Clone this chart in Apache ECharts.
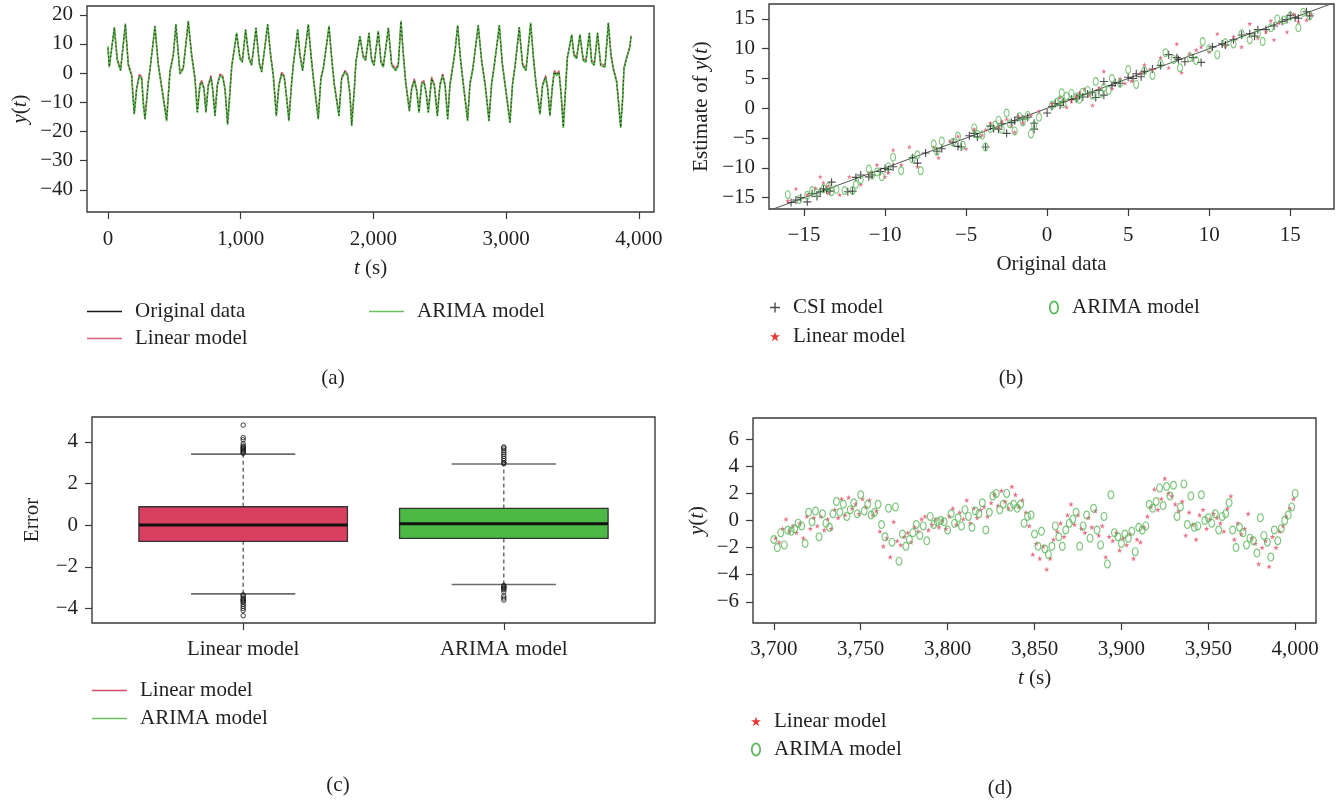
<!DOCTYPE html>
<html>
<head>
<meta charset="utf-8">
<script src="https://cdn.jsdelivr.net/npm/echarts@6/dist/echarts.min.js"></script>
<style>
html,body{margin:0;padding:0;background:#fff;}
#chart{width:1340px;height:803px;}
</style>
</head>
<body>
<div id="chart"></div>
<script>
// ---------- Panel (a): time series ----------
const tA = [
0,10,48,70,95,131,153,178,186,198,
216,236,254,266,279,304,316,354,379,404,
442,467,492,512,542,567,605,630,655,673,
693,706,723,738,756,776,788,806,824,844,
864,881,901,919,932,969,994,1012,1037,1062,
1082,1115,1140,1158,1203,1225,1245,1268,1288,1308,
1328,1346,1363,1384,1396,1429,1446,1466,1509,1529,
1547,1584,1604,1622,1665,1685,1705,1740,1760,1785,
1805,1823,1836,1856,1868,1898,1923,1941,1966,1986,
2004,2036,2056,2074,2112,2137,2167,2187,2207,2225,
2242,2270,2288,2308,2325,2343,2363,2380,2395,2413,
2438,2458,2481,2501,2521,2539,2559,2576,2601,2614,
2634,2656,2676,2709,2727,2747,2789,2815,2840,2870,
2890,2907,2948,2970,2990,3028,3048,3066,3098,3123,
3149,3184,3204,3224,3254,3274,3297,3312,3329,3349,
3362,3380,3397,3412,3430,3447,3460,3493,3510,3530,
3555,3580,3600,3626,3643,3663,3688,3711,3744,3769,
3789,3806,3832,3862,3877,3887,3907,3932,3940];
const yOrig = [
8.5,2.2,15.6,4.5,1.0,16.8,2.8,-0.7,-6.4,-13.9,
-5.3,-0.9,-1.8,-10.3,-15.6,-3.0,1.0,16.0,2.8,-4.7,
-16.2,0.5,6.2,16.6,-0.1,1.6,17.7,6.2,-1.8,-13.3,
-4.1,-3.0,-5.3,-13.3,-4.1,-1.3,-5.3,-14.5,-4.1,-0.7,
-1.3,-5.3,-17.4,-6.4,2.2,13.7,5.1,3.9,14.8,5.1,
2.8,15.4,3.3,0.5,16.6,6.2,-0.7,-14.5,-4.1,-0.1,
-1.3,-8.7,-16.2,-3.0,2.8,14.8,6.2,1.0,16.6,6.2,
-1.8,-15.6,-1.8,1.6,16.0,5.1,-4.1,-14.5,-1.8,0.5,
-0.7,-7.5,-17.9,-5.3,3.9,12.5,5.6,4.5,13.7,4.5,
2.8,14.3,3.9,2.2,15.4,2.8,1.0,2.8,17.7,6.2,
-3.0,-12.8,-5.3,-2.4,-5.9,-13.3,-3.6,-3.0,-6.4,-13.3,
-1.8,-4.1,-14.5,-4.1,-0.7,-4.1,-15.6,-4.1,3.3,7.4,
16.3,4.5,-3.6,-16.2,-3.6,1.0,16.3,4.0,-3.6,-16.2,
-3.6,1.6,16.3,3.3,-3.6,-16.8,-3.6,2.2,15.6,2.8,
1.0,17.1,5.6,-3.6,-13.9,-4.1,-1.3,-5.3,-14.5,-4.1,
0.5,-0.7,0.5,-6.4,-18.5,-5.3,5.1,13.1,6.2,5.1,
13.1,4.5,3.9,13.7,3.9,2.8,13.7,2.8,2.2,17.1,
6.2,1.6,-3.0,-18.5,-8.7,1.6,5.1,9.1,12.5];
const yLin = [
8.0,2.6,15.1,5.0,1.4,16.2,3.3,-0.2,-5.8,-13.0,
-5.0,-0.4,-1.3,-9.6,-14.8,-2.6,1.5,15.4,3.4,-4.2,
-15.3,0.9,6.6,16.0,0.4,2.0,17.0,6.8,-1.3,-12.5,
-3.6,-2.5,-4.8,-12.6,-3.7,-0.8,-4.8,-13.7,-3.6,-0.3,
-0.8,-4.9,-16.5,-5.8,2.7,13.1,5.6,4.4,14.2,5.6,
3.3,14.8,3.8,1.0,16.0,6.7,-0.2,-13.7,-3.7,0.3,
-0.9,-8.1,-15.3,-2.6,3.3,14.2,6.7,1.5,16.0,6.7,
-1.3,-14.8,-1.4,2.0,15.4,5.6,-3.6,-13.7,-1.4,0.9,
-0.3,-7.0,-17.0,-4.8,4.4,12.0,6.1,5.0,13.2,5.0,
3.3,13.8,4.4,2.7,14.9,3.3,1.5,3.3,17.0,6.7,
-2.5,-12.1,-4.8,-1.9,-5.4,-12.6,-3.1,-2.5,-5.9,-12.6,
-1.3,-3.6,-13.7,-3.6,-0.2,-3.6,-14.8,-3.6,3.8,7.9,
15.7,5.0,-3.1,-15.3,-3.1,1.5,15.7,4.5,-3.1,-15.3,
-3.1,2.1,15.7,3.8,-3.1,-15.9,-3.1,2.7,15.0,3.3,
1.5,16.5,6.1,-3.1,-13.2,-3.6,-0.8,-4.8,-13.7,-3.6,
0.9,-0.3,0.9,-5.9,-17.5,-4.8,5.6,12.6,6.7,5.6,
12.6,5.0,4.4,13.2,4.4,3.3,13.2,3.3,2.7,16.5,
6.7,2.1,-2.5,-17.6,-8.1,2.1,5.6,9.5,12.9];
const yAri = [
9.2,2.0,15.8,4.3,0.8,17.0,2.6,-0.9,-6.6,-14.2,
-5.5,-1.1,-2.0,-10.6,-15.9,-3.2,0.8,16.2,2.6,-4.9,
-16.5,0.3,6.0,16.8,-0.3,1.4,17.9,6.0,-2.0,-13.6,
-4.3,-3.2,-5.5,-13.6,-4.3,-1.5,-5.5,-14.8,-4.3,-0.9,
-1.5,-5.5,-17.8,-6.6,2.0,13.9,4.9,3.7,15.0,4.9,
2.6,15.6,3.1,0.3,16.8,6.0,-0.9,-14.8,-4.3,-0.3,
-1.5,-8.9,-16.5,-3.2,2.6,15.0,6.0,0.8,16.8,6.0,
-2.0,-15.9,-2.0,1.4,16.2,4.9,-4.3,-14.8,-2.0,0.3,
-0.9,-7.7,-18.2,-5.5,3.7,12.7,5.4,4.3,13.9,4.3,
2.6,14.5,3.7,2.0,15.6,2.6,0.8,2.6,17.9,6.0,
-3.2,-13.1,-5.5,-2.6,-6.1,-13.6,-3.8,-3.2,-6.6,-13.6,
-2.0,-4.3,-14.8,-4.3,-0.9,-4.3,-15.9,-4.3,3.1,7.2,
16.5,4.3,-3.8,-16.5,-3.8,0.8,16.5,3.8,-3.8,-16.5,
-3.8,1.4,16.5,3.1,-3.8,-17.1,-3.8,2.0,15.8,2.6,
0.8,17.3,5.4,-3.8,-14.2,-4.3,-1.5,-5.5,-14.8,-4.3,
0.3,-0.9,0.3,-6.6,-18.8,-5.5,4.9,13.3,6.0,4.9,
13.3,4.3,3.7,13.9,3.7,2.6,13.9,2.6,2.0,17.3,
6.0,1.4,-3.2,-18.8,-8.9,1.4,4.9,8.9,12.7];
const ticksAX = [0,1000,2000,3000,4000];
const ticksAY = [-40,-30,-20,-10,0,10,20];

// ---------- Panel (b): estimate vs original ----------
const csiPts = [[-15.8,-15.8],[-15.5,-15.4],[-15.2,-15.0],[-14.8,-15.7],[-14.2,-14.8],[-13.8,-13.5],[-13.3,-12.4],[-13.4,-13.9],[-12.3,-14.0],[-12.0,-13.9],[-11.5,-11.2],[-11.0,-11.5],[-10.8,-11.2],[-10.3,-10.6],[-9.8,-10.3],[-9.5,-9.8],[-8.3,-8.3],[-8.0,-9.2],[-7.5,-7.5],[-6.8,-7.2],[-6.5,-6.8],[-5.5,-6.4],[-5.3,-6.5],[-4.8,-4.6],[-4.3,-4.8],[-3.8,-6.5],[-3.5,-3.0],[-3.0,-3.5],[-2.5,-4.2],[-2.0,-2.1],[-1.5,-1.8],[-1.2,-1.5],[-0.8,-2.5],[-0.8,-3.5],[0.0,-0.8],[0.3,0.3],[0.8,0.5],[1.5,1.5],[2.0,2.2],[2.5,2.4],[3.0,1.8],[3.5,2.2],[3.5,4.5],[4.0,3.8],[4.5,4.2],[5.0,5.2],[5.5,5.8],[6.0,6.2],[6.5,6.6],[7.0,7.2],[7.5,9.0],[8.0,8.5],[8.1,8.2],[8.5,7.8],[9.0,8.5],[9.5,7.7],[10.2,10.3],[10.8,10.8],[11.5,11.5],[12.0,12.3],[12.5,12.5],[13.0,13.2],[13.5,13.2],[14.0,13.8],[14.5,14.6],[15.0,15.6],[15.5,15.1],[16.0,16.2],[16.2,15.5],[-2.8,-2.6],[-2.2,-2.4],[-1.8,-1.5],[0.5,0.8],[1.0,1.1],[1.8,1.6],[2.2,1.9],[2.8,2.7],[3.2,3.0],[4.2,4.3],[5.3,5.0],[5.8,5.3],[-14.5,-14.3],[-14.0,-14.0],[-13.6,-13.7],[-11.8,-11.6],[-10.0,-10.1],[-5.8,-5.7],[-4.5,-4.2],[-3.3,-3.4],[11.0,10.6],[12.8,12.1],[14.8,14.9],[15.3,15.2]];
const linPts = [[-16.0,-15.5],[-15.5,-13.5],[-14.8,-14.5],[-14.0,-11.5],[-13.8,-12.5],[-13.5,-13.0],[-13.5,-14.2],[-12.8,-14.5],[-11.5,-12.8],[-11.0,-10.8],[-10.5,-9.5],[-10.0,-11.5],[-9.5,-7.0],[-9.0,-9.5],[-8.5,-6.5],[-8.0,-9.8],[-7.0,-6.5],[-6.7,-8.3],[-6.0,-5.5],[-5.5,-4.7],[-5.0,-6.8],[-4.5,-3.5],[-4.0,-4.5],[-3.5,-2.5],[-3.0,-3.2],[-2.5,-1.8],[-2.0,-4.0],[-1.5,-2.5],[-1.0,-1.2],[-0.5,-0.5],[0.3,0.8],[0.8,1.8],[1.2,0.2],[1.8,1.9],[2.3,3.2],[2.8,0.5],[3.2,3.4],[3.5,6.2],[4.0,3.3],[4.5,5.0],[5.2,4.6],[5.8,6.0],[6.0,7.3],[6.5,6.5],[7.0,8.5],[7.5,6.8],[8.0,10.8],[8.3,6.0],[8.8,9.2],[9.5,10.3],[10.0,9.5],[10.5,12.5],[11.0,10.5],[11.5,12.0],[12.0,10.3],[12.5,14.2],[13.0,11.8],[13.5,12.8],[14.0,11.5],[14.3,14.3],[14.8,12.8],[15.2,15.8],[15.5,14.5],[16.0,14.8],[16.3,15.8],[-14.3,-13.4],[-2.8,-2.2],[-2.2,-3.0],[-1.8,-1.3],[1.5,1.2],[2.0,2.6],[2.6,2.2],[-12.2,-11.5],[-9.8,-10.8],[-3.8,-3.6],[4.8,4.2],[9.2,9.8],[13.8,14.7]];
const ariPts = [[-16.0,-14.5],[-15.3,-15.3],[-14.5,-13.8],[-14.2,-14.2],[-13.8,-13.5],[-13.5,-13.2],[-13.3,-14.0],[-12.5,-13.8],[-12.0,-13.8],[-11.8,-12.8],[-11.5,-12.0],[-11.0,-10.2],[-10.8,-11.2],[-10.5,-10.7],[-10.2,-11.5],[-9.8,-9.8],[-9.5,-8.2],[-9.0,-10.5],[-8.3,-8.5],[-8.0,-7.8],[-7.8,-10.5],[-7.0,-6.0],[-6.8,-7.2],[-6.5,-5.5],[-5.8,-5.7],[-5.5,-4.7],[-5.2,-6.2],[-4.5,-3.3],[-4.0,-4.5],[-3.8,-6.5],[-3.5,-3.4],[-3.0,-2.0],[-2.8,-3.5],[-2.5,-0.8],[-2.0,-3.8],[-1.5,-2.3],[-1.2,-1.2],[-1.0,-4.3],[-0.5,-1.5],[0.3,0.5],[0.6,1.0],[1.0,0.8],[1.5,2.5],[2.0,1.5],[2.5,3.0],[3.0,4.5],[3.3,2.5],[3.5,3.5],[4.0,5.0],[4.5,4.2],[5.0,6.5],[5.5,4.0],[6.0,6.3],[6.5,5.5],[7.0,7.5],[7.3,9.3],[7.8,8.2],[8.2,6.8],[8.8,8.5],[9.2,8.0],[9.6,11.2],[10.0,10.0],[10.5,9.0],[11.0,11.0],[11.5,10.8],[12.0,12.5],[12.5,11.5],[13.0,12.5],[13.3,11.2],[13.8,13.5],[14.2,15.0],[14.6,14.8],[15.0,15.5],[15.5,13.5],[15.8,16.1],[16.2,15.5],[-14.8,-14.6],[-13.0,-13.6],[-3.2,-2.8],[-2.3,-2.6],[-1.7,-1.4],[-0.8,-2.9],[0.8,1.4],[1.2,2.0],[1.8,1.9],[2.2,2.7],[2.8,2.2],[3.8,3.0],[0.9,2.6],[-4.3,-4.4]];
const refLine = [-18, 18];
const ticksB = [-15,-10,-5,0,5,10,15];

// ---------- Panel (c): error boxplots ----------
const boxCats = ['Linear model', 'ARIMA model'];
// lower whisker, Q1, median, Q3, upper whisker
const boxLin = [-3.30, -0.78, 0.0, 0.88, 3.41];
const boxAri = [-2.85, -0.64, 0.07, 0.80, 2.93];
const outLin = [3.45,3.5,3.55,3.6,3.65,3.7,3.75,3.8,3.9,4.1,4.2,4.8,-3.35,-3.4,-3.5,-3.55,-3.6,-3.65,-3.7,-3.8,-3.9,-4.0,-4.1,-4.35];
const outAri = [2.95,3.0,3.1,3.2,3.3,3.4,3.5,3.6,3.7,3.75,-2.9,-2.95,-3.0,-3.05,-3.1,-3.2,-3.4,-3.5,-3.6];
const ticksCY = [-4,-2,0,2,4];

// ---------- Panel (d): zoom 3700-4000 s ----------
const ariD = [
-1.4,-2.0,-0.9,-1.8,-0.7,-0.8,-0.6,-0.2,-0.4,-1.7,
0.6,-0.1,0.7,-1.2,0.5,-0.2,-0.5,0.5,1.4,0.6,
1.2,0.3,0.8,1.3,0.5,1.9,0.7,1.2,0.4,0.6,
1.2,-0.3,-1.2,0.9,-1.6,1.0,-3.0,-1.0,-1.9,-1.4,
-0.9,-0.3,-1.1,-0.4,-1.5,0.3,-0.3,-0.1,0.0,-0.1,
-0.7,0.5,-0.2,0.2,-0.4,0.8,0.3,-0.5,0.7,0.5,
1.3,-0.7,0.6,1.8,2.0,0.8,1.2,2.0,1.0,1.2,
0.9,1.2,-0.2,0.3,0.4,-1.0,-1.9,-0.8,-2.1,-2.5,
-1.9,-0.4,-1.2,-1.9,-0.7,-0.2,0.1,0.6,-1.9,-0.4,
0.4,-1.3,0.9,-0.7,-1.8,0.3,-3.2,1.9,-0.9,-1.2,
-1.7,-1.0,-1.3,-0.8,-2.3,-0.5,-0.7,-0.4,1.2,0.9,
1.4,2.4,1.1,2.5,1.8,2.6,0.3,1.0,2.7,-0.3,
1.8,-0.5,-0.4,1.9,0.0,0.2,-0.2,0.5,-0.7,0.3,
0.5,1.3,-0.7,-2.0,-0.5,-0.9,-1.8,-1.3,-1.5,-2.4,
0.2,-1.1,-1.6,-2.7,-0.7,-1.5,-0.6,0.0,0.4,1.0,
2.0];
const linD = [
-1.3,-1.6,-0.6,0.1,-0.8,-0.4,-0.9,-0.2,-1.3,0.3,
-0.6,0.2,-0.4,0.3,-0.7,0.1,-0.6,0.8,0.2,1.6,
0.4,1.7,0.9,1.2,0.5,1.6,1.0,1.5,0.4,0.7,
-0.8,-1.9,-1.3,-2.7,-0.1,-1.5,-1.8,-1.2,-0.9,-1.6,
-0.5,-0.8,0.1,0.3,-0.7,-0.3,0.1,-0.5,0.0,-0.6,
0.3,0.9,-0.3,0.6,0.1,1.5,-0.2,0.9,0.2,0.8,
1.0,0.3,1.3,1.9,1.1,2.2,1.4,0.9,2.5,1.9,
1.0,1.5,0.6,-0.4,-2.5,-1.7,-2.8,-1.9,-3.6,-2.8,
-1.4,-0.8,-0.2,-1.2,0.4,1.2,-0.3,0.4,-0.6,-0.9,
0.2,-0.5,0.7,-1.1,-0.4,-2.7,-1.2,-1.5,-0.9,-2.2,
-1.3,-1.8,-1.0,-2.8,-1.4,-1.6,-0.5,0.3,1.0,2.3,
0.8,1.6,3.1,2.0,1.8,1.2,0.7,1.4,-1.1,0.6,
-0.3,-1.4,0.4,0.8,-0.6,0.1,0.5,0.2,-0.2,-0.8,
0.9,1.8,-1.4,-0.2,-1.0,-0.6,0.5,-1.3,-1.7,-3.2,
-2.0,-1.5,-3.4,-1.2,-2.0,-0.8,-0.4,0.3,0.9,1.6];
const ariDStart = 3700, linDStart = 3701, dStep = 2;
const ticksDX = [3700,3750,3800,3850,3900,3950,4000];
const ticksDY = [-6,-4,-2,0,2,4,6];

// ---------- styling ----------
const FONT = 'Liberation Serif';
const FS = 21;
const TXT = '#231f20';
const FRAME = '#3a3a3a';
const C_RED = '#d9536a', C_GREEN = '#5cbd50', C_BLACK = '#1a1a1a';
const PLUS = 'path://M4.3,0H5.7V10H4.3Z M0,4.3H10V5.7H0Z';
const STAR = 'path://M5,0 L6.2,3.6 L10,3.6 L6.9,5.8 L8.1,9.5 L5,7.2 L1.9,9.5 L3.1,5.8 L0,3.6 L3.8,3.6 Z';
const RING = 'path://M5,0C2.2,0 0,3.1 0,7C0,10.9 2.2,14 5,14C7.8,14 10,10.9 10,7C10,3.1 7.8,0 5,0Z M5,1.8C6.8,1.8 8.3,4.1 8.3,7C8.3,9.9 6.8,12.2 5,12.2C3.2,12.2 1.7,9.9 1.7,7C1.7,4.1 3.2,1.8 5,1.8Z';
const LINEICON = 'path://M0,0H36V1.6H0Z';

function fmt(v){
  const s = Math.abs(v).toString().replace(/\B(?=(\d{3})+(?!\d))/g, ',');
  return v < 0 ? '\u2212' + s : s;
}
const richI = {i:{fontStyle:'italic', fontFamily:FONT, fontSize:FS, color:TXT}};
const nameStyle = {fontFamily:FONT, fontSize:FS, color:TXT, rich:richI};

function mkAxis(o){
  return Object.assign({
    type:'value', scale:false,
    axisLine:{show:false, onZero:false},
    axisTick:{show:true, inside:false, length:7, lineStyle:{color:FRAME, width:1.2}, customValues:o.ticks},
    axisLabel:{show:true, color:TXT, fontFamily:FONT, fontSize:FS, margin:o.margin||16, customValues:o.ticks, formatter:o.formatter||fmt},
    splitLine:{show:false},
    nameLocation:'middle', nameTextStyle:nameStyle
  }, o.extra);
}

const grids = [
  {left:87, top:6, width:567, height:206},
  {left:769, top:4, width:565, height:205},
  {left:92, top:417, width:563, height:206},
  {left:753, top:418, width:563, height:205}
].map(g => Object.assign(g, {show:true, borderColor:FRAME, borderWidth:1.4, backgroundColor:'transparent', containLabel:false}));

const xAxes = [
  mkAxis({ticks:ticksAX, margin:17, extra:{gridIndex:0, min:-158, max:4113, name:'{i|t} (s)', nameGap:46}}),
  mkAxis({ticks:ticksB, extra:{gridIndex:1, min:-17.16, max:17.7, name:'Original data', nameGap:45}}),
  mkAxis({ticks:[1,2], formatter:v => boxCats[Math.round(v)-1], extra:{gridIndex:2, min:0.42, max:2.58}}),
  mkAxis({ticks:ticksDX, extra:{gridIndex:3, min:3688, max:4012, name:'{i|t} (s)', nameGap:45}})
];
const yAxes = [
  mkAxis({ticks:ticksAY, margin:14, extra:{gridIndex:0, min:-47.6, max:23, name:'{i|y}({i|t})', nameGap:56}}),
  mkAxis({ticks:ticksB, margin:14, extra:{gridIndex:1, min:-16.9, max:17.5, name:'Estimate of {i|y}({i|t})', nameGap:57}}),
  mkAxis({ticks:ticksCY, margin:14, extra:{gridIndex:2, min:-4.7, max:5.19, name:'Error', nameGap:49}}),
  mkAxis({ticks:ticksDY, margin:14, extra:{gridIndex:3, min:-7.56, max:7.56, name:'{i|y}({i|t})', nameGap:45}})
];

function boxRender(fill){
  return function(params, api){
    const pos = api.value(0), lw = api.value(1), q1 = api.value(2), med = api.value(3), q3 = api.value(4), uw = api.value(5);
    const half = 0.4, cap = 0.2;
    const c = (x,y) => api.coord([x,y]);
    const ln = (a,b,style) => ({type:'line', shape:{x1:a[0], y1:a[1], x2:b[0], y2:b[1]}, style});
    const dash = {stroke:'#4a4a4a', lineWidth:1.2, lineDash:[4,3]};
    const capS = {stroke:'#6a6a6a', lineWidth:1.6};
    const tl = c(pos-half, q3), br = c(pos+half, q1);
    return {type:'group', children:[
      ln(c(pos,lw), c(pos,q1), dash),
      ln(c(pos,q3), c(pos,uw), dash),
      ln(c(pos-cap,lw), c(pos+cap,lw), capS),
      ln(c(pos-cap,uw), c(pos+cap,uw), capS),
      {type:'rect', shape:{x:tl[0], y:tl[1], width:br[0]-tl[0], height:br[1]-tl[1]}, style:{fill:fill, stroke:'#333', lineWidth:1.3}},
      ln(c(pos-half,med), c(pos+half,med), {stroke:'#111', lineWidth:3})
    ]};
  };
}

const lineBase = {type:'line', showSymbol:false, symbol:'none', xAxisIndex:0, yAxisIndex:0, silent:true};
const series = [
  Object.assign({}, lineBase, {name:'Linear model', z:2, data:tA.map((t,i)=>[t,yLin[i]]), lineStyle:{color:C_RED, width:1.3}, itemStyle:{color:C_RED}}),
  Object.assign({}, lineBase, {name:'ARIMA model', z:3, data:tA.map((t,i)=>[t,yAri[i]]), lineStyle:{color:C_GREEN, width:1.7}, itemStyle:{color:C_GREEN}}),
  Object.assign({}, lineBase, {name:'Original data', z:4, data:tA.map((t,i)=>[t,yOrig[i]]), lineStyle:{color:C_BLACK, width:0.9, type:[1.5,2.5]}, itemStyle:{color:C_BLACK}}),
  // (b)
  {type:'line', xAxisIndex:1, yAxisIndex:1, symbol:'none', silent:true, z:1, clip:true, data:refLine.map(v=>[v,v]), lineStyle:{color:'#555', width:1}},
  {type:'scatter', name:'CSI model', xAxisIndex:1, yAxisIndex:1, symbol:PLUS, symbolSize:8, itemStyle:{color:'#222'}, data:csiPts, z:3},
  {type:'scatter', name:'Linear model', xAxisIndex:1, yAxisIndex:1, symbol:STAR, symbolSize:5, itemStyle:{color:'#e0506a'}, data:linPts, z:4},
  {type:'scatter', name:'ARIMA model', xAxisIndex:1, yAxisIndex:1, symbol:RING, symbolSize:[6,9], itemStyle:{color:'#5cb85c'}, data:ariPts, z:5},
  // (c)
  {type:'custom', name:'Linear model', xAxisIndex:2, yAxisIndex:2, renderItem:boxRender('#d94060'), data:[[1].concat(boxLin)], z:2},
  {type:'custom', name:'ARIMA model', xAxisIndex:2, yAxisIndex:2, renderItem:boxRender('#4cb944'), data:[[2].concat(boxAri)], z:2},
  {type:'scatter', xAxisIndex:2, yAxisIndex:2, symbol:'circle', symbolSize:4.5, itemStyle:{color:'rgba(0,0,0,0)', borderColor:'#111', borderWidth:1}, z:5,
   data: outLin.map(v=>[boxCats.indexOf('Linear model')+1, v]).concat(outAri.map(v=>[boxCats.indexOf('ARIMA model')+1, v]))},
  // (d)
  {type:'scatter', name:'Linear model', xAxisIndex:3, yAxisIndex:3, symbol:STAR, symbolSize:5.5, itemStyle:{color:'#e0506a'}, data:linD.map((v,i)=>[linDStart+dStep*i, v]), z:3},
  {type:'scatter', name:'ARIMA model', xAxisIndex:3, yAxisIndex:3, symbol:RING, symbolSize:[7,9], itemStyle:{color:'#5cb85c'}, data:ariD.map((v,i)=>[ariDStart+dStep*i, v]), z:4}
];

function lg(o){
  return Object.assign({
    orient:'vertical', padding:0, selectedMode:false, itemHeight:20,
    textStyle:{fontFamily:FONT, fontSize:FS, color:TXT, lineHeight:20, padding:[0,0,0,8]}
  }, o);
}
const legends = [
  lg({left:87, top:301, itemWidth:35, itemGap:6, data:[
    {name:'Original data', icon:LINEICON, itemStyle:{color:C_BLACK, borderWidth:0}},
    {name:'Linear model', icon:LINEICON, itemStyle:{color:'#d9607a', borderWidth:0}}]}),
  lg({left:369, top:301, itemWidth:35, data:[
    {name:'ARIMA model', icon:LINEICON, itemStyle:{color:'#6cc15f', borderWidth:0}}]}),
  lg({left:770, top:297, itemWidth:10, itemGap:8, data:[
    {name:'CSI model', icon:PLUS, itemStyle:{color:'#222', borderWidth:0}},
    {name:'Linear model', icon:STAR, itemStyle:{color:'#e53935', borderWidth:0}}]}),
  lg({left:1049, top:297, itemWidth:10, data:[
    {name:'ARIMA model', icon:RING, itemStyle:{color:'#5cb85c', borderWidth:0}}]}),
  lg({left:92, top:680, itemWidth:35, itemGap:7, data:[
    {name:'Linear model', icon:LINEICON, itemStyle:{color:'#d84b67', borderWidth:0}},
    {name:'ARIMA model', icon:LINEICON, itemStyle:{color:'#6cc15f', borderWidth:0}}]}),
  lg({left:751, top:711, itemWidth:10, itemGap:7, data:[
    {name:'Linear model', icon:STAR, itemStyle:{color:'#e53935', borderWidth:0}},
    {name:'ARIMA model', icon:RING, itemStyle:{color:'#5cb85c', borderWidth:0}}]})
];

const panelLabels = [['(a)',333,378],['(b)',1011,378],['(c)',338,785],['(d)',1000,788]];

const chart = echarts.init(document.getElementById('chart'), null, {renderer:'canvas'});
chart.setOption({
  animation:false,
  backgroundColor:'#fff',
  grid:grids, xAxis:xAxes, yAxis:yAxes, legend:legends, series:series,
  graphic: panelLabels.map(p => ({type:'text', x:p[1], y:p[2], style:{text:p[0], fontFamily:FONT, fontSize:FS, fill:TXT, textAlign:'center', textVerticalAlign:'middle'}}))
});
</script>
</body>
</html>
